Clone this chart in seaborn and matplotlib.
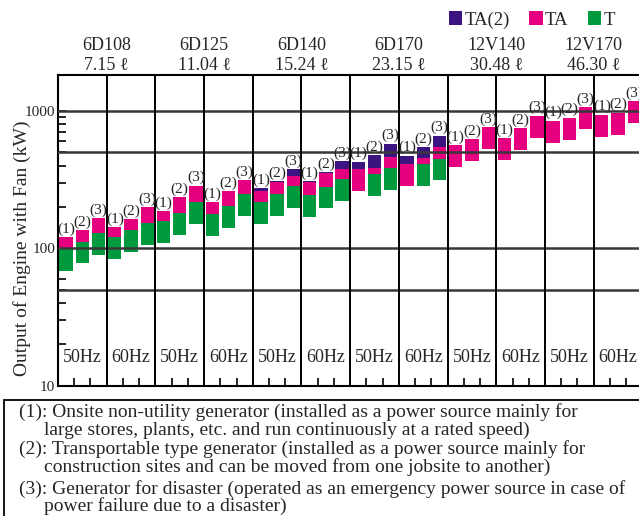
import numpy as np
import pandas as pd
import matplotlib
matplotlib.use("Agg")
import matplotlib.pyplot as plt
import matplotlib.transforms as mtransforms
from matplotlib.patches import Patch, Rectangle
from matplotlib.ticker import LogLocator, NullFormatter, FixedFormatter
import seaborn as sns

# ---------------- data ----------------
engines = ["6D108", "6D125", "6D140", "6D170", "12V140", "12V170"]
displacements = ["7.15", "11.04", "15.24", "23.15", "30.48", "46.30"]
frequencies = ["50Hz", "60Hz"]
uses = ["(1)", "(2)", "(3)"]

nan = np.nan
# T (green) range
t_low = [68, 78, 89, 83, 94, 106, 109, 125, 151, 123, 141, 172,
         150, 172, 197, 169, 197, 221, nan, 241, 267, nan, 285, 315,
         nan, nan, nan, nan, nan, nan, nan, nan, nan, nan, nan, nan]
t_high = [100, 112, 129, 120, 136, 152, 157, 180, 218, 177, 203, 249,
          218, 249, 285, 244, 279, 319, nan, 348, 385, nan, 412, 446,
          nan, nan, nan, nan, nan, nan, nan, nan, nan, nan, nan, nan]
# TA (pink) range
ta_low = [100, 112, 129, 120, 136, 152, 157, 180, 218, 177, 203, 249,
          218, 249, 285, 244, 279, 319, 262, 348, 385, 285, 412, 446,
          392, 433, 528, 441, 519, 638, 588, 618, 743, 649, 672, 822]
ta_high = [120, 135, 166, 142, 163, 199, 186, 236, 285, 217, 261, 313,
           262, 303, 336, 303, 352, 378, 378, 385, 461, 412, 456, 546,
           564, 625, 764, 635, 751, 924, 849, 893, 1069, 940, 973, 1183]
# TA(2) (purple) upper end, starts at TA upper end
ta2_high = [nan, nan, nan, nan, nan, nan, nan, nan, nan, nan, nan, nan,
            274, 308, 378, 308, 359, 431, 427, 477, 577, 472, 546, 660,
            nan, nan, nan, nan, nan, nan, nan, nan, nan, nan, nan, nan]

series_names = ["T", "TA", "TA(2)"]
series_colors = ["#009a3e", "#e4007f", "#3c1482"]

notes = [
    ("(1): Onsite non-utility generator (installed as a power source mainly for",
     "large stores, plants, etc. and run continuously at a rated speed)"),
    ("(2): Transportable type generator (installed as a power source mainly for",
     "construction sites and can be moved from one jobsite to another)"),
    ("(3): Generator for disaster (operated as an emergency power source in case of",
     "power failure due to a disaster)"),
]

# ---------------- style ----------------
sns.set_style("white")
plt.rcParams["font.family"] = ["Liberation Serif", "DejaVu Serif"]
plt.rcParams["mathtext.fontset"] = "stix"

W, H = 639, 516
fig = plt.figure(figsize=(W / 100, H / 100), dpi=100)
ax_l, ax_r, ax_t, ax_b = 58, 642.4, 75, 385.6
ax = fig.add_axes([ax_l / W, 1 - ax_b / H, (ax_r - ax_l) / W, (ax_b - ax_t) / H])
ax.set_yscale("log")

bar_ids = [f"{e} {f} {u}" for e in engines for f in frequencies for u in uses]
bar_uses = [u for e in engines for f in frequencies for u in uses]

ranges = [(t_low, t_high), (ta_low, ta_high), (ta_high, ta2_high)]
for name, (lo, hi), color in zip(series_names, ranges, series_colors):
    df = pd.DataFrame({"bar": bar_ids, "low": lo, "high": hi}).dropna()
    df["height"] = df["high"] - df["low"]
    sns.barplot(data=df, x="bar", y="height", order=bar_ids, color=color,
                saturation=1, width=0.82, errorbar=None,
                bottom=df["low"].to_numpy(), linewidth=0, edgecolor="none",
                ax=ax, zorder=2)

ax.set_xlim(-0.5, 35.5)
ax.set_ylim(10, 1830)
ax.set_xlabel("")

# x ticks between bars, inward
ax.set_xticks([3 * c + k + 0.5 for c in range(12) for k in range(2)])
ax.set_xticklabels([])
ax.tick_params(axis="x", which="both", direction="in", length=6, width=1.2,
               bottom=True, top=False, color="black")

# y ticks
ax.set_yticks([10, 100, 1000])
ax.yaxis.set_major_formatter(FixedFormatter(["10", "100", "1000"]))
ax.yaxis.set_minor_locator(LogLocator(base=10, subs=range(2, 10)))
ax.yaxis.set_minor_formatter(NullFormatter())
ax.tick_params(axis="y", which="both", direction="in", length=6, width=1.2,
               left=True, right=False, labelsize=11, pad=2, color="black")

# grid lines (drawn on top of bars)
for v in [50, 100, 500, 1000]:
    ax.axhline(v, color="#383838", lw=1.8, zorder=3)
for c in range(1, 12):
    ax.axvline(3 * c - 0.5, color="black", lw=1.4, zorder=3)
for s in ax.spines.values():
    s.set_color("black")
    s.set_linewidth(1.5)

# (1)(2)(3) labels above each bar
tops = np.fmax(np.array(ta_high, float), np.array(ta2_high, float))
for i, (u, top) in enumerate(zip(bar_uses, tops)):
    ax.annotate(u, (i, top), xytext=(0, 1), textcoords="offset points",
                ha="center", va="bottom", fontsize=11, zorder=4)

trans = mtransforms.blended_transform_factory(ax.transData, fig.transFigure)
for k, (e, d) in enumerate(zip(engines, displacements)):
    ax.text(6 * k + 2.5, 1 - 45 / H, e, transform=trans, ha="center",
            va="center", fontsize=13, clip_on=False)
    ax.text(6 * k + 2.5, 1 - 65 / H, f"{d} ℓ", transform=trans, ha="center",
            va="center", fontsize=13, clip_on=False)
for c in range(12):
    ax.text(3 * c + 1, 1 - 358 / H, frequencies[c % 2], transform=trans,
            ha="center", va="center", fontsize=13, zorder=4)

ax.set_ylabel("Output of Engine with Fan (kW)", fontsize=14)
ax.yaxis.label.set_va("center")
ax.yaxis.set_label_coords((22 - ax_l) / (ax_r - ax_l), (ax_b - 248.5) / (ax_b - ax_t))

# legend
handles = [Patch(facecolor=c, edgecolor="none") for c in series_colors[::-1]]
fig.legend(handles, series_names[::-1], loc="center left",
           bbox_to_anchor=(449 / W, 1 - 20 / H), frameon=False, ncol=3,
           handlelength=0.7, handleheight=0.7, handletextpad=0.12,
           columnspacing=1.05, borderpad=0, borderaxespad=0,
           prop={"size": 13.5})

# notes box
fig.add_artist(Rectangle((4 / W, -0.05), 1.2, 1 - 400 / H + 0.05,
                         transform=fig.transFigure, fill=False,
                         edgecolor="black", lw=1.3, clip_on=False))
ys = [(412, 430), (449, 467), (489, 506)]
for (l1, l2), (y1, y2) in zip(notes, ys):
    fig.text(19 / W, 1 - y1 / H, l1, va="center", ha="left", fontsize=14)
    fig.text(44 / W, 1 - y2 / H, l2, va="center", ha="left", fontsize=14)

fig.savefig("out.png", dpi=100)
